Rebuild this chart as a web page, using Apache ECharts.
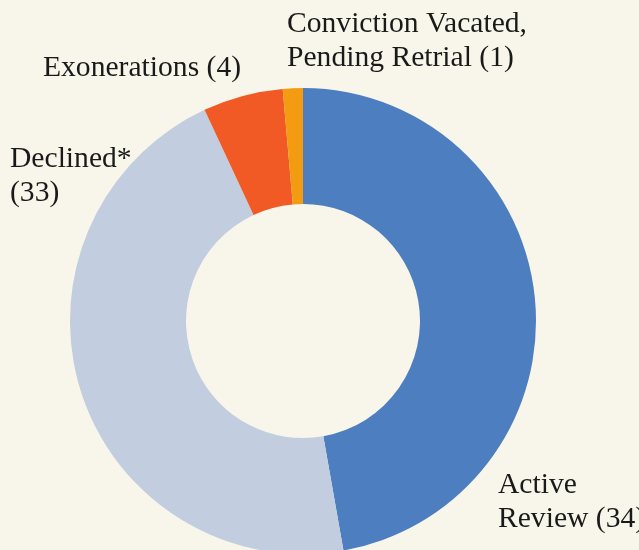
<!DOCTYPE html>
<html>
<head>
<meta charset="utf-8">
<script src="https://cdn.jsdelivr.net/npm/echarts@6/dist/echarts.min.js"></script>
<style>
html,body{margin:0;padding:0;background:#f8f6ea;}
#chart{width:639px;height:550px;}
</style>
</head>
<body>
<div id="chart"></div>
<script>
// Data
const categories = ["Active Review", "Declined*", "Exonerations", "Conviction Vacated, Pending Retrial"];
const values = [34, 33, 4, 1];
// Label text as displayed (with line wraps)
const labelTexts = ["Active\nReview (34)", "Declined*\n(33)", "Exonerations (4)", "Conviction Vacated,\nPending Retrial (1)"];

const colors = ["#4c7ec0", "#c2cde0", "#f15a24", "#f39c12"];
const labelPos = [
  {x: 498, y: 468},
  {x: 10, y: 142},
  {x: 43, y: 51},
  {x: 287, y: 7}
];

const chart = echarts.init(document.getElementById('chart'), null, {renderer: 'canvas'});
chart.setOption({
  backgroundColor: '#f8f6ea',
  animation: false,
  series: [{
    type: 'pie',
    center: [303, 321],
    radius: [117, 233],
    startAngle: 90,
    clockwise: true,
    avoidLabelOverlap: false,
    itemStyle: {borderWidth: 0},
    label: {
      show: true,
      position: 'outside',
      formatter: p => labelTexts[p.dataIndex],
      fontFamily: '"Liberation Serif", serif',
      fontSize: 29.6,
      lineHeight: 34,
      color: '#1a1a1a'
    },
    labelLine: {show: false},
    labelLayout: p => ({
      x: labelPos[p.dataIndex].x,
      y: labelPos[p.dataIndex].y,
      align: 'left',
      verticalAlign: 'top'
    }),
    emphasis: {disabled: true},
    data: categories.map((c, i) => ({name: c, value: values[i], itemStyle: {color: colors[i]}}))
  }]
});
</script>
</body>
</html>
